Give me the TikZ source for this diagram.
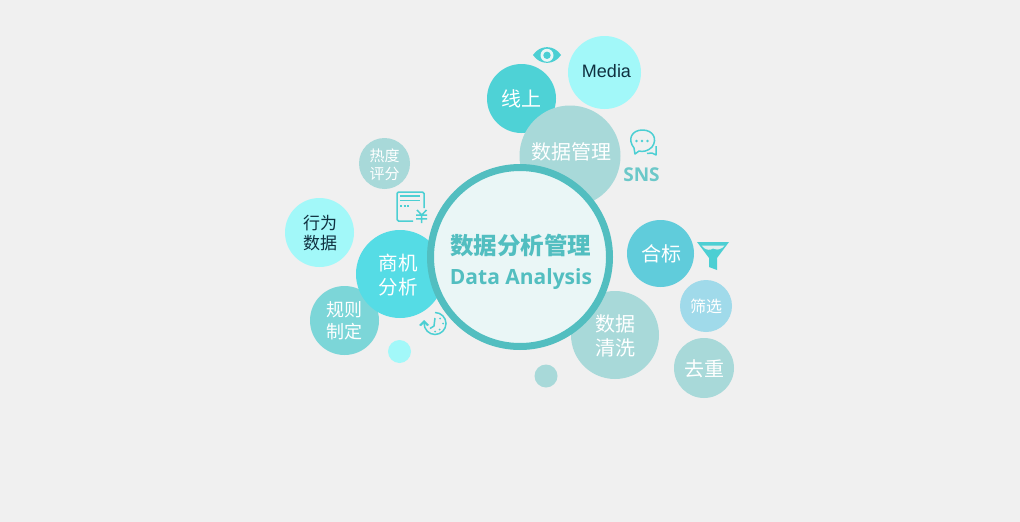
\documentclass[tikz,border=0pt]{standalone}
\usepackage{fontspec}
\setmainfont{Liberation Sans}
\newfontfamily\cjk{Noto Sans CJK SC}
\newfontfamily\latb{Open Sans}
\definecolor{bgc}{HTML}{F0F0F0}
\definecolor{paleblue}{HTML}{A2F8F9}
\definecolor{tealA}{HTML}{4ED2D6}
\definecolor{sage}{HTML}{A8D9D9}
\definecolor{ring}{HTML}{52BEC0}
\definecolor{inner}{HTML}{EAF6F6}
\definecolor{bizc}{HTML}{55DCE5}
\definecolor{rulec}{HTML}{7CD6D8}
\definecolor{hebiao}{HTML}{60CCDB}
\definecolor{shai}{HTML}{A0DAEA}
\definecolor{icon}{HTML}{4CCFD3}
\definecolor{inkc}{HTML}{103040}
\tikzset{
  x=1pt,y=-1pt,
  bub/.style={circle,inner sep=0pt,minimum size=#1*2pt,align=center,text=white,font=\cjk\fontsize{20}{24}\selectfont},
  ico/.style={draw=icon,line width=1.5pt,fill=none},
  lab/.style={text=white,inner sep=0pt,align=center},
}
\begin{document}
\begin{tikzpicture}
\path[fill=bgc] (0,0) rectangle (1020,522);
\useasboundingbox (0,0) rectangle (1020,522);
\node[bub=36.5,fill=paleblue] (media) at (604.5,72.5) {};
\node[lab,text=inkc,font=\fontsize{18}{20}\selectfont] (mediat) at (606.5,71) {Media};
\node[bub=34.5,fill=tealA] (xian) at (521.5,98.5) {};
\node[lab,font=\cjk\fontsize{20}{24}\selectfont] (xiant) at (521.5,99) {线上};
\node[bub=50.5,fill=sage] (guanli) at (570,156) {};
\node[lab,font=\cjk\fontsize{20}{24}\selectfont] (guanlit) at (571,152) {数据管理};
\node[bub=25.5,fill=sage] (redu) at (384.5,163.5) {};
\node[lab,font=\cjk\fontsize{15}{18}\selectfont] (redut) at (384.5,165) {热度\\评分};
\node[bub=34.5,fill=paleblue] (xingwei) at (319.5,232.5) {};
\node[lab,text=inkc,font=\cjk\fontsize{17}{20}\selectfont] (xingweit) at (320,233) {行为\\数据};
\node[bub=34.5,fill=rulec] (guize) at (344.5,320.5) {};
\node[lab,font=\cjk\fontsize{18}{22.5}\selectfont] (guizet) at (344.5,320.5) {规则\\制定};
\node[bub=44,fill=bizc] (shangji) at (400,274) {};
\node[lab,font=\cjk\fontsize{19.5}{24}\selectfont] (shangjit) at (398,275) {商机\\分析};
\node[bub=11.5,fill=paleblue] (dotA) at (399.5,351.5) {};
\node[bub=11.5,fill=sage] (dotB) at (546,376) {};
\node[bub=44,fill=sage] (qing) at (615,335) {};
\node[lab,font=\cjk\fontsize{20}{24}\selectfont] (qingt) at (615,336) {数据\\清洗};
\node[bub=33.5,fill=hebiao] (hebiaon) at (660.5,253.5) {};
\node[lab,font=\cjk\fontsize{20}{24}\selectfont] (hebiaot) at (661,254) {合标};
\node[bub=26,fill=shai] (shaixuan) at (706,306) {};
\node[lab,font=\cjk\fontsize{16}{20}\selectfont] (shaixuant) at (706,306.5) {筛选};
\node[bub=30,fill=sage] (quchong) at (704,368) {};
\node[lab,font=\cjk\fontsize{20}{24}\selectfont] (quchongt) at (704,368.5) {去重};
\node[circle,draw=ring,line width=7pt,fill=inner,inner sep=0pt,minimum size=179pt] (main) at (520,257) {};
\node[lab,text=ring,font=\cjk\bfseries\fontsize{23.5}{28}\selectfont] (tA) at (520.5,246) {数据分析管理};
\node[lab,text=ring,font=\latb\bfseries\fontsize{21}{26}\selectfont] (tB) at (521,279) {Data Analysis};
\node[lab,text=ring!85!white,font=\latb\bfseries\fontsize{19}{22}\selectfont] (sns) at (641.5,175) {SNS};
% eye icon
\path[fill=icon] (533,55) .. controls (540,44.5) and (554,44.5) .. (561,55) .. controls (554,65.5) and (540,65.5) .. (533,55) -- cycle;
\path[fill=inner] (547,55.3) circle (6.5);
\path[fill=icon] (547,55.3) circle (3.7);
% chat icon
\draw[ico,line join=round] (634,148) .. controls (627,139) and (632,130) .. (642.5,130) .. controls (653,130) and (658,139) .. (652,147) .. controls (648,151.5) and (642,152) .. (639,151) -- (635,154) -- cycle;
\draw[ico,line join=round] (656,146) -- (656,155) -- (652,153) -- (647,153.5);
\foreach \px in {636.5,642,647.5}{\path[fill=icon] (\px,141) circle (1.3);}
% receipt icon
\draw[ico,rounded corners=1.5pt] (413,221) -- (397,221) -- (397,192) -- (424,192) -- (424,208);
\draw[ico] (400,196) -- (420,196) (400,200.6) -- (420,200.6);
\draw[icon,line width=1.4pt,dash pattern=on 2pt off 1.5pt] (400,206) -- (409,206);
\draw[icon,line width=1.5pt] (417,210) -- (421.7,215) -- (426.5,210) (416,215.2) -- (427,215.2) (416,218.8) -- (427,218.8) (421.5,215) -- (421.5,223);
% clock icon
\draw[ico] (435,312.5) .. controls (441,312.5) and (446,317.5) .. (446,323.5) .. controls (446,329.5) and (441,334.5) .. (435,334.5) .. controls (429,334.5) and (424,329.5) .. (424,323);
\path[fill=icon] (419,325) -- (424,320) -- (429,325) -- (427,326) -- (424,323) -- (421,326) -- cycle;
\draw[icon,line width=1.5pt] (435,318) -- (434,326) -- (430,328.5);
\foreach \px/\py in {440/318.5,443/323.5,439.5/329.5,435/331.5}{\path[fill=icon] (\px,\py) circle (1);}
% funnel icon
\path[fill=icon] (697,242) -- (729,242) -- (717,258) -- (717,270) -- (709,267) -- (709,258) -- cycle;
\path[fill=bgc!90!icon] (701.5,245.5) -- (724.5,245.5) -- (722,248) .. controls (718,250) and (716,250) .. (713,248.5) .. controls (710,250.5) and (707,250) .. (704,248) -- cycle;
\end{tikzpicture}
\end{document}
